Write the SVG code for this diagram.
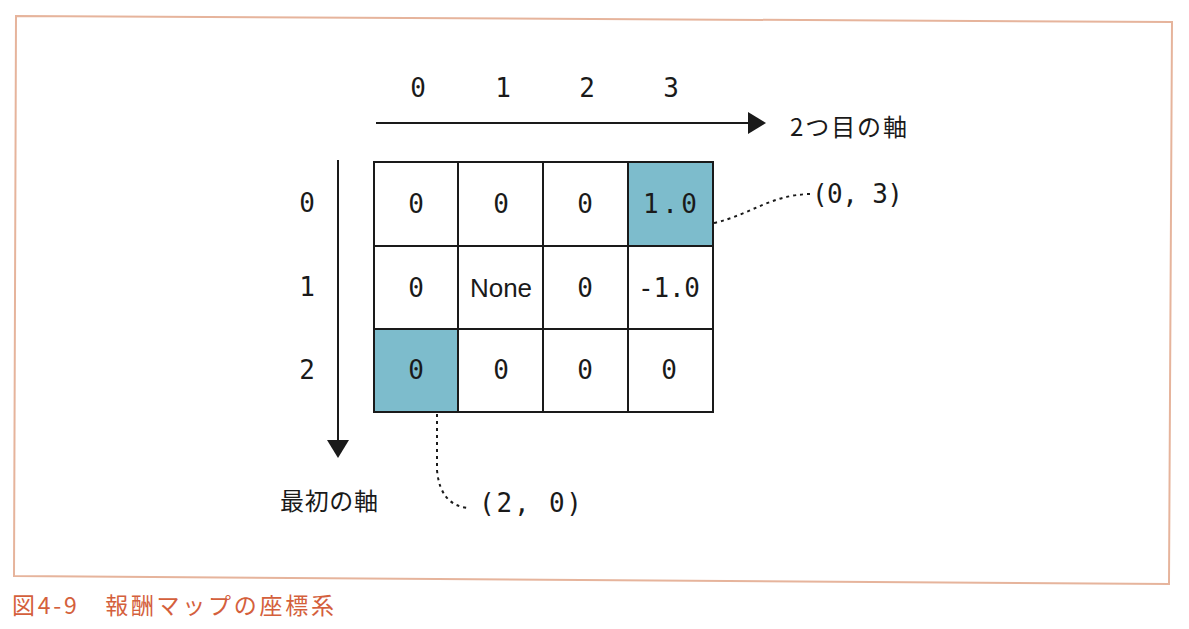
<svg xmlns="http://www.w3.org/2000/svg" width="1189" height="629" viewBox="0 0 1189 629">
<style>
.mono{font-family:"DejaVu Sans Mono","Liberation Mono",monospace;font-size:26px;fill:#1a1a1a;text-anchor:middle;dominant-baseline:central}
.sans{font-family:"Liberation Sans","Noto Sans CJK JP",sans-serif;font-size:26px;fill:#1a1a1a;text-anchor:middle;dominant-baseline:central}
.jp{font-family:"Noto Sans CJK JP",sans-serif;font-size:24px;fill:#1a1a1a;dominant-baseline:central}
.cell{fill:#fff;stroke:#1a1a1a;stroke-width:2}
.hl{fill:#7dbccc}
.dot{fill:none;stroke:#1a1a1a;stroke-width:2;stroke-dasharray:3 4}
.axis{stroke:#1a1a1a;stroke-width:2}
</style>
<rect width="1189" height="629" fill="#fff"/>
<polygon points="16,16 1172,22 1169,584 14,576" fill="none" stroke="#e6b49c" stroke-width="2"/>
<text x="12" y="604" font-family="Noto Sans CJK JP,sans-serif" font-size="23" fill="#d4603c" dominant-baseline="central" textLength="322" lengthAdjust="spacing">図4-9　報酬マップの座標系</text>

<g id="axis-col-labels">
<text class="mono" x="418" y="88">0</text>
<text class="mono" x="503" y="88">1</text>
<text class="mono" x="587" y="88">2</text>
<text class="mono" x="671" y="88">3</text>
</g>
<g id="axis-row-labels">
<text class="mono" x="307" y="203">0</text>
<text class="mono" x="307" y="287">1</text>
<text class="mono" x="307" y="370">2</text>
</g>

<g id="axis2">
<line class="axis" x1="376" y1="123" x2="750" y2="123"/>
<polygon points="748,112 766,123 748,134" fill="#1a1a1a"/>
<text class="jp" x="790" y="125" textLength="117" lengthAdjust="spacing">2つ目の軸</text>
</g>
<g id="axis1">
<line class="axis" x1="338" y1="160" x2="338" y2="442"/>
<polygon points="327,440 349,440 338,458" fill="#1a1a1a"/>
<text class="jp" x="280" y="499" textLength="98" lengthAdjust="spacing">最初の軸</text>
</g>

<g id="grid">
<g id="r0c0"><rect class="cell" x="374" y="162" width="84" height="84"/><text class="mono" x="416" y="204">0</text></g>
<g id="r0c1"><rect class="cell" x="458" y="162" width="85" height="84"/><text class="mono" x="501" y="204">0</text></g>
<g id="r0c2"><rect class="cell" x="543" y="162" width="85" height="84"/><text class="mono" x="585" y="204">0</text></g>
<g id="r0c3"><rect class="cell hl" x="628" y="162" width="85" height="84"/><text class="mono" x="670" y="204" textLength="54" lengthAdjust="spacing">1.0</text></g>
<g id="r1c0"><rect class="cell" x="374" y="246" width="84" height="83"/><text class="mono" x="416" y="288">0</text></g>
<g id="r1c1"><rect class="cell" x="458" y="246" width="85" height="83"/><text class="sans" x="501" y="288">None</text></g>
<g id="r1c2"><rect class="cell" x="543" y="246" width="85" height="83"/><text class="mono" x="585" y="288">0</text></g>
<g id="r1c3"><rect class="cell" x="628" y="246" width="85" height="83"/><text class="mono" x="669" y="288" textLength="62" lengthAdjust="spacing">-1.0</text></g>
<g id="r2c0"><rect class="cell hl" x="374" y="329" width="84" height="83"/><text class="mono" x="416" y="370">0</text></g>
<g id="r2c1"><rect class="cell" x="458" y="329" width="85" height="83"/><text class="mono" x="501" y="370">0</text></g>
<g id="r2c2"><rect class="cell" x="543" y="329" width="85" height="83"/><text class="mono" x="585" y="370">0</text></g>
<g id="r2c3"><rect class="cell" x="628" y="329" width="85" height="83"/><text class="mono" x="669" y="370">0</text></g>
</g>

<g id="connectors">
<path class="dot" d="M714,223 C752,214 770,195 810,194"/>
<path class="dot" d="M437,414 L437,470 Q440,505 468,508"/>
</g>
<g id="label-03"><text class="mono" x="812" y="194" style="text-anchor:start" textLength="91" lengthAdjust="spacing">(0, 3)</text></g>
<g id="label-20"><text class="mono" x="479" y="503" style="text-anchor:start" textLength="103" lengthAdjust="spacing">(2, 0)</text></g>
</svg>
